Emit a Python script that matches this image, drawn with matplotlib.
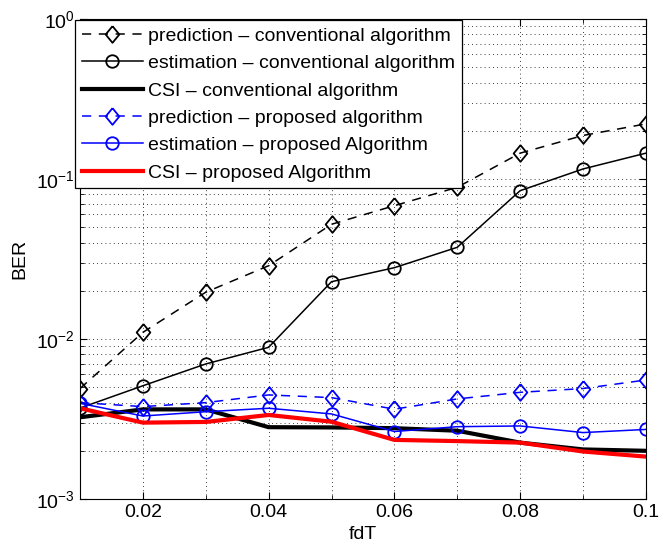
import numpy as np
import matplotlib.pyplot as plt
from matplotlib.ticker import MultipleLocator, LogLocator, NullFormatter

plt.rcParams['font.family'] = ['Liberation Sans', 'DejaVu Sans']

fdT = [0.01, 0.02, 0.03, 0.04, 0.05, 0.06, 0.07, 0.08, 0.09, 0.1]

pred_conv = [4.9e-3, 0.0110, 0.0196, 0.0287, 0.0521, 0.0681, 0.0887, 0.145, 0.187, 0.221]
est_conv = [3.7e-3, 5.1e-3, 6.98e-3, 8.87e-3, 0.0228, 0.0279, 0.0374, 0.0845, 0.1155, 0.145]
csi_conv = [3.24e-3, 3.63e-3, 3.63e-3, 2.81e-3, 2.80e-3, 2.77e-3, 2.67e-3, 2.25e-3, 2.04e-3, 2.0e-3]
pred_prop = [4.0e-3, 3.78e-3, 4.0e-3, 4.47e-3, 4.3e-3, 3.64e-3, 4.22e-3, 4.64e-3, 4.9e-3, 5.54e-3]
est_prop = [3.96e-3, 3.30e-3, 3.51e-3, 3.69e-3, 3.40e-3, 2.64e-3, 2.83e-3, 2.86e-3, 2.60e-3, 2.72e-3]
csi_prop = [3.69e-3, 3.0e-3, 3.03e-3, 3.35e-3, 3.04e-3, 2.34e-3, 2.30e-3, 2.25e-3, 1.98e-3, 1.84e-3]

labels = ['prediction \u2013 conventional algorithm',
          'estimation \u2013 conventional algorithm',
          'CSI \u2013 conventional algorithm',
          'prediction \u2013 proposed algorithm',
          'estimation \u2013 proposed Algorithm',
          'CSI \u2013 proposed Algorithm']

# MATLAB-like diamond: a bit taller than wide
diamond = [(0, 1), (0.82, 0), (0, -1), (-0.82, 0), (0, 1)]

fig = plt.figure(figsize=(6.7, 5.47), dpi=100)
ax = fig.add_axes([0.1194, 0.0878, 0.8446, 0.8775])

ax.semilogy(fdT, pred_conv, 'k--', marker=diamond, lw=1.1, ms=12, mfc='none', mew=1.3,
            dashes=(6, 5), label=labels[0])
ax.semilogy(fdT, est_conv, 'k-o', lw=1.1, ms=9, mfc='none', mew=1.3, label=labels[1])
ax.semilogy(fdT, csi_conv, 'k-', lw=3, label=labels[2])
ax.semilogy(fdT, pred_prop, 'b--', marker=diamond, lw=1.1, ms=12, mfc='none', mew=1.3,
            dashes=(6, 5), label=labels[3])
ax.semilogy(fdT, est_prop, 'b-o', lw=1.1, ms=9, mfc='none', mew=1.3, label=labels[4])
ax.semilogy(fdT, csi_prop, '-', color='red', lw=3, label=labels[5])

ax.set_xlim(0.01, 0.1)
ax.set_ylim(1e-3, 1)
ax.xaxis.set_minor_locator(MultipleLocator(0.01))
ax.set_xticks([0.02, 0.04, 0.06, 0.08, 0.1])
ax.set_xticklabels(['0.02', '0.04', '0.06', '0.08', '0.1'])
ax.yaxis.set_major_locator(LogLocator(base=10, numticks=10))
ax.yaxis.set_minor_locator(LogLocator(base=10, subs=np.arange(2, 10), numticks=20))
ax.yaxis.set_minor_formatter(NullFormatter())
ax.grid(True, which='both', color='k', linestyle=(0, (1, 4)), linewidth=0.6)
ax.tick_params(which='both', direction='in', top=True, right=True, labelsize=14)
ax.tick_params(which='major', length=5)
ax.tick_params(which='minor', length=3)

ax.set_xlabel('fdT', fontsize=14, labelpad=4)
ax.set_ylabel('BER', fontsize=14, labelpad=6)

leg = ax.legend(loc='upper left', bbox_to_anchor=(-0.008, 0.997), fontsize=14,
                fancybox=False, framealpha=1, edgecolor='k', handlelength=3.1,
                borderpad=0.35, labelspacing=0.5, handletextpad=0.3, borderaxespad=0)
leg.get_frame().set_linewidth(0.9)

plt.savefig('out.png')
